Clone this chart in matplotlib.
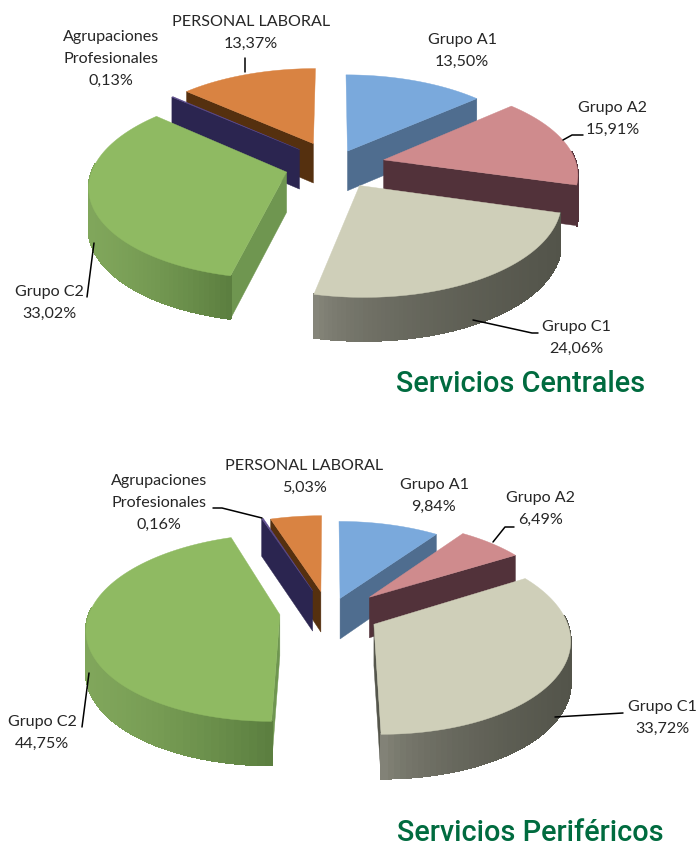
import numpy as np
import matplotlib
matplotlib.use("Agg")
import matplotlib.pyplot as plt
from matplotlib.patches import Polygon
from matplotlib.collections import PolyCollection
from matplotlib.colors import to_rgb

categories = ["Grupo A1", "Grupo A2", "Grupo C1", "Grupo C2",
              "Agrupaciones\nProfesionales", "PERSONAL LABORAL"]
centrales = [13.50, 15.91, 24.06, 33.02, 0.13, 13.37]
perifericos = [9.84, 6.49, 33.72, 44.75, 0.16, 5.03]
titles = ["Servicios Centrales", "Servicios Periféricos"]

top_colors = ["#7aa9dc", "#cf8b8d", "#cfcfb9", "#8fba62", "#5b4a8c", "#d98342"]
wall_colors = ["#4f6d8f", "#52323a", "#55564c", "#6f9650", "#2b2550", "#55300f"]
rim_light = ["#5f83ab", "#6a4048", "#8f8f83", "#80a65b", "#2b2550", "#6b3c14"]
rim_dark = ["#4f6d8f", "#52323a", "#53544a", "#5c7f40", "#2b2550", "#55300f"]
rim_gamma = [1, 1, 0.45, 1.4, 1, 1]

fig = plt.figure(figsize=(7.0, 8.47), dpi=100)
ax = fig.add_axes([0, 0, 1, 1])
ax.set_xlim(0, 700)
ax.set_ylim(847, 0)
ax.axis("off")

K = 0.137


def project(u, v, cx, cy, rx, ry, h, down=False):
    s = 1 / (1 + K * v)
    x = cx + rx * u * s
    y = cy - ry * v * s
    if down:
        y = y + h * (1 - 0.07 * v)
    return x, y


def draw_pie(values, explode, nudge, order, cx, cy, rx, ry, h):
    angles = np.cumsum([0] + list(values)) / sum(values) * 2 * np.pi
    for i in order:
        a0, a1 = angles[i], angles[i + 1]
        m = (a0 + a1) / 2
        eu, ev = explode[i] * np.sin(m), explode[i] * np.cos(m)
        th = np.linspace(a0, a1, 80)
        u = eu + np.sin(th)
        v = ev + np.cos(th)
        args = (cx + nudge[i][0], cy + nudge[i][1], rx, ry, h)
        ax_, ay_ = project(eu, ev, *args)
        bx_, by_ = project(eu, ev, *args, down=True)
        tx, ty = project(u, v, *args)
        dx, dy = project(u, v, *args, down=True)
        mid_x, mid_y = tx.mean(), ty.mean()

        def walls():
            for j in (0, -1):
                ex, ey = tx[j] - ax_, ty[j] - ay_
                side_down = ex
                side_top = ex * (mid_y - ay_) - ey * (mid_x - ax_)
                if abs(ex) > 3 and side_down * side_top < 0:
                    poly = [(ax_, ay_), (tx[j], ty[j]), (dx[j], dy[j]), (bx_, by_)]
                    ax.add_patch(Polygon(poly, closed=True, fc=wall_colors[i],
                                         ec=wall_colors[i], lw=0.3))

        def rim():
            vis = np.where(np.cos(th) < 0.1)[0]
            if len(vis) < 2:
                return
            rx_t, ry_t, rx_d, ry_d = tx[vis], ty[vis], dx[vis], dy[vis]
            outline = list(zip(rx_t, ry_t)) + list(zip(rx_d[::-1], ry_d[::-1]))
            ax.add_patch(Polygon(outline, closed=True, fc=rim_dark[i], ec=rim_dark[i], lw=0.3))
            span = max(tx.max() - tx.min(), 1)
            quads, cols = [], []
            light, dark = np.array(to_rgb(rim_light[i])), np.array(to_rgb(rim_dark[i]))
            for n in range(len(vis) - 1):
                quads.append([(rx_t[n], ry_t[n]), (rx_t[n + 1], ry_t[n + 1]),
                              (rx_d[n + 1], ry_d[n + 1]), (rx_d[n], ry_d[n])])
                t = ((rx_t[n] - tx.min()) / span) ** rim_gamma[i]
                cols.append(light + (dark - light) * t)
            ax.add_collection(PolyCollection(quads, facecolors=cols, edgecolors=cols,
                                             linewidths=0.8, antialiaseds=False))

        if np.cos(m) > 0:
            rim()
            walls()
        else:
            walls()
            rim()
        top = [(ax_, ay_)] + list(zip(tx, ty))
        ax.add_patch(Polygon(top, closed=True, fc=top_colors[i], ec=top_colors[i], lw=0.3))


def pct(v):
    return f"{v:.2f}".replace(".", ",") + "%"


def draw_labels(values, positions, leaders):
    for cat, val, (x, y) in zip(categories, values, positions):
        ax.text(x, y, f"{cat}\n{pct(val)}", ha="center", va="center", fontsize=11.6,
                family="Lato", color="#262626", linespacing=1.7)
    for line in leaders:
        xs, ys = zip(*line)
        ax.plot(xs, ys, color="black", lw=1.1, solid_capstyle="round")


draw_pie(centrales, [0.16, 0.26, 0.27, 0.25, 0.23, 0.23],
         [(2, 0), (2, 1), (-1, 0), (0, 1), (-1, -1), (-2, -2)], [5, 4, 0, 1, 3, 2],
         333, 164, 193, 90, 40)
draw_labels(centrales,
            [(462, 51), (613, 119), (576, 338), (49, 303), (111, 59), (251, 33)],
            [[(245, 58), (245, 72)], [(94, 243), (87, 297)],
             [(473, 320), (532, 333), (538, 333)],
             [(563, 140), (572, 135), (583, 135)]])
draw_pie(perifericos, [0.16, 0.26, 0.29, 0.25, 0.23, 0.21],
         [(5, 3), (8, 4), (-1, 2), (1, 2), (0, 1), (1, 1)], [5, 4, 0, 1, 3, 2],
         326, 609, 190, 91, 41)
draw_labels(perifericos,
            [(434, 496), (541, 509), (662, 718), (42, 733), (159, 503), (304, 477)],
            [[(213, 508), (222, 508), (262, 518)], [(89, 673), (82, 727)],
             [(493, 542), (505, 527), (514, 527)], [(555, 717), (623, 713)]])

title_font = ["Roboto"]
ax.text(521, 384, titles[0], ha="center", va="center", fontsize=20.8, color="#006b3f",
        family=title_font, weight="medium")
ax.text(530, 833, titles[1], ha="center", va="center", fontsize=20.8, color="#006b3f",
        family=title_font, weight="medium")

fig.savefig("out.png", dpi=100, facecolor="white")
